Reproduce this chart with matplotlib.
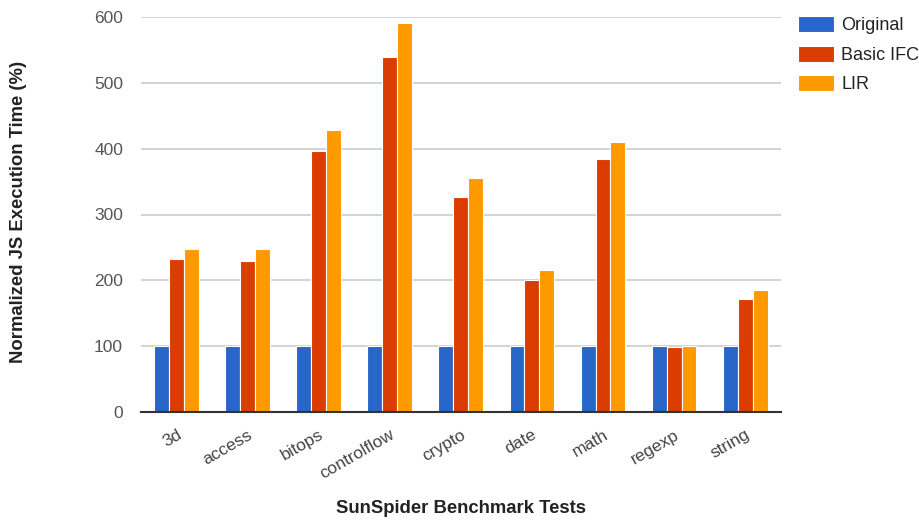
import numpy as np
import matplotlib
matplotlib.use("Agg")
import matplotlib.pyplot as plt

plt.rcParams['font.family'] = ['Liberation Sans', 'DejaVu Sans']

tests = ['3d', 'access', 'bitops', 'controlflow', 'crypto', 'date', 'math', 'regexp', 'string']
original = [100, 100, 100, 100, 100, 100, 100, 100, 100]
basic_ifc = [233, 229, 397, 540, 327, 200, 385, 99, 172]
lir = [247, 247, 428, 591, 356, 216, 410, 100, 185]

series = [('Original', original, '#2866c9'),
          ('Basic IFC', basic_ifc, '#db3c00'),
          ('LIR', lir, '#ff9900')]

fig = plt.figure(figsize=(9.19, 5.2), dpi=100)
ax = fig.add_axes([0.1535, 0.208, 0.696, 0.759])

x = np.arange(len(tests))
w = 0.21
for i, (name, vals, col) in enumerate(series):
    ax.bar(x + (i - 1) * w, vals, w, color=col, edgecolor='white', linewidth=0.8,
           label=name, zorder=3)

ax.set_xlim(-0.5, len(tests) - 0.5)
ax.set_ylim(0, 600)
ax.set_yticks(np.arange(0, 601, 100))
ax.yaxis.grid(True, color='#cccccc', linewidth=1.2, zorder=0)
ax.set_axisbelow(True)
for s in ['top', 'right', 'left']:
    ax.spines[s].set_visible(False)
ax.spines['bottom'].set_color('#333333')
ax.spines['bottom'].set_linewidth(1.5)
ax.spines['bottom'].set_zorder(4)
ax.tick_params(axis='both', length=0, labelsize=12.5, colors='#444444')
ax.tick_params(axis='y', pad=13, labelcolor='#555555')
ax.set_xticks(x)
ax.set_xticklabels(tests, rotation=30, ha='right', va='top', rotation_mode='anchor')
ax.tick_params(axis='x', pad=11)

fig.text(0.5015, 0.005, 'SunSpider Benchmark Tests', ha='center', va='bottom',
         fontsize=13.3, fontweight='bold', color='#222222')
fig.text(0.02, 0.592, 'Normalized JS Execution Time (%)', ha='center', va='center',
         rotation=90, fontsize=13.3, fontweight='bold', color='#222222')

leg = fig.legend(loc='upper left', bbox_to_anchor=(0.868, 0.969), frameon=False,
                 fontsize=13, handlelength=2.0, handleheight=1.0,
                 labelspacing=0.62, handletextpad=0.4, borderaxespad=0, borderpad=0)
for t in leg.get_texts():
    t.set_color('#222222')

fig.savefig('out.png', dpi=100)
